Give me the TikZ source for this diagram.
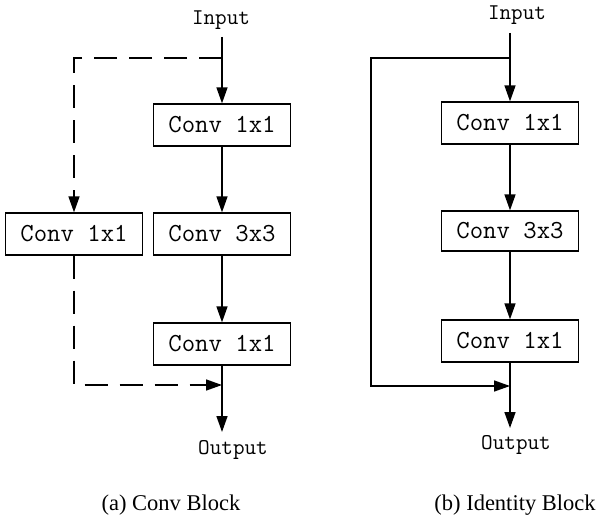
\documentclass[tikz,border=0pt]{standalone}
\usepackage{fontspec}
\setmainfont{Liberation Serif}
\usetikzlibrary{arrows.meta}
\tikzset{
  blk/.style={draw=black, line width=1.3pt, minimum width=137pt, minimum height=42pt, inner sep=0pt, font=\ttfamily\fontsize{26}{30}\selectfont},
  lbl/.style={inner sep=0pt, font=\ttfamily\fontsize{22.5}{26}\selectfont},
  captxt/.style={inner sep=0pt, font=\fontsize{22.5}{26}\selectfont},
  ln/.style={line width=1.5pt, draw=black},
  arr/.style={ln, -{Triangle[length=16pt,width=11pt]}},
  dsh/.style={dash pattern=on 23pt off 12pt}
}
\begin{document}
\begin{tikzpicture}[x=1pt,y=-1pt]
\useasboundingbox (0,0) rectangle (601,519);
% ---- (a) Conv Block ----
\node[lbl] (inA) at (221,20) {Input};
\node[blk] (c1A) at (222,125) {Conv 1x1};
\node[blk] (cLA) at (74,234) {Conv 1x1};
\node[blk] (c3A) at (222,234) {Conv 3x3};
\node[blk] (c4A) at (222,344) {Conv 1x1};
\node[lbl] (outA) at (233,450) {Output};
\coordinate (sA) at (222,37);
\coordinate (jA) at (222,58);
\coordinate (mA) at (222,385);
\coordinate (eA) at (222,432);
\coordinate (kA) at (74,385);
\draw[arr] (sA) -- (c1A.north);
\draw[arr] (c1A.south) -- (c3A.north);
\draw[arr] (c3A.south) -- (c4A.north);
\draw[arr] (c4A.south) -- (eA);
\draw[arr,dsh] (jA) -| (cLA.north);
\draw[arr,dsh] (cLA.south) -- (kA) -- (mA);
\node[captxt] (capA) at (171,505) {(a) Conv Block};
% ---- (b) Identity Block ----
\node[lbl] (inB) at (517,15) {Input};
\node[blk] (c1B) at (510,123) {Conv 1x1};
\node[blk, minimum height=40pt] (c3B) at (510,231) {Conv 3x3};
\node[blk] (c4B) at (510,341) {Conv 1x1};
\node[lbl] (outB) at (516,445) {Output};
\coordinate (sB) at (510,33);
\coordinate (jB) at (510,58);
\coordinate (lB) at (371,58);
\coordinate (kB) at (371,386);
\coordinate (mB) at (510,386);
\coordinate (eB) at (510,428);
\draw[arr] (sB) -- (c1B.north);
\draw[arr] (c1B.south) -- (c3B.north);
\draw[arr] (c3B.south) -- (c4B.north);
\draw[arr] (c4B.south) -- (eB);
\draw[arr] (jB) -- (lB) -- (kB) -- (mB);
\node[captxt] (capB) at (515,505) {(b) Identity Block};
\end{tikzpicture}
\end{document}
